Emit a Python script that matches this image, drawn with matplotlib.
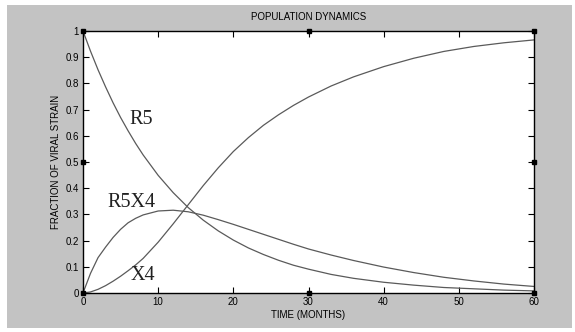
import matplotlib
matplotlib.use("Agg")
import matplotlib.pyplot as plt
from matplotlib.patches import Rectangle

# Data
t = [0, 1, 2, 3, 4, 5, 6, 7, 8, 10, 12, 14, 16, 18, 20, 22, 24, 26, 28, 30,
     33, 36, 40, 44, 48, 52, 56, 60]
r5 = [1.0, 0.923, 0.852, 0.787, 0.726, 0.670, 0.619, 0.571, 0.527, 0.449,
      0.383, 0.326, 0.278, 0.237, 0.202, 0.172, 0.147, 0.125, 0.106, 0.091,
      0.071, 0.056, 0.041, 0.030, 0.021, 0.016, 0.011, 0.008]
r5x4 = [0.0, 0.075, 0.135, 0.175, 0.212, 0.243, 0.268, 0.285, 0.298, 0.313,
        0.316, 0.310, 0.297, 0.280, 0.262, 0.243, 0.224, 0.205, 0.186, 0.168,
        0.145, 0.124, 0.099, 0.078, 0.060, 0.046, 0.034, 0.025]
x4 = [0.0, 0.004, 0.014, 0.028, 0.045, 0.064, 0.085, 0.107, 0.132, 0.194,
      0.264, 0.337, 0.410, 0.478, 0.540, 0.593, 0.640, 0.680, 0.716, 0.748,
      0.790, 0.825, 0.864, 0.896, 0.922, 0.941, 0.955, 0.966]

marker_x = [0, 0, 0, 30, 30, 60, 60, 60]
marker_y = [0, 0.5, 1, 0, 1, 0, 0.5, 1]

curve_labels = ["R5", "R5X4", "X4"]
label_pos = [(7.7, 0.664), (6.5, 0.345), (8.0, 0.067)]

x_ticks = [0, 10, 20, 30, 40, 50, 60]
y_ticks = [0, 0.1, 0.2, 0.3, 0.4, 0.5, 0.6, 0.7, 0.8, 0.9, 1]
y_ticklabels = ["0", "0.1", "0.2", "0.3", "0.4", "0.5", "0.6", "0.7", "0.8", "0.9", "1"]

W, H = 575, 332
fig = plt.figure(figsize=(W / 100, H / 100), dpi=100, facecolor="white")
fig.patches.append(Rectangle((7 / W, 4 / H), (572 - 7) / W, (327 - 4) / H,
                             transform=fig.transFigure, facecolor="#c3c3c3",
                             edgecolor="none", zorder=-10))

ax = fig.add_axes([83 / W, 39 / H, 451 / W, 262 / H])
ax.set_facecolor("white")

line_color = "#5a5a5a"
ax.plot(t, r5, color=line_color, lw=0.9)
ax.plot(t, r5x4, color=line_color, lw=0.9)
ax.plot(t, x4, color=line_color, lw=0.9)
ax.plot(marker_x, marker_y, linestyle="none", marker="s", markersize=3,
        color="black", clip_on=False, zorder=5)

for lab, (lx, ly) in zip(curve_labels, label_pos):
    ax.text(lx, ly, lab, family="Liberation Serif", fontsize=14.5,
            ha="center", va="center", color="#222222")

ax.set_xlim(0, 60)
ax.set_ylim(0, 1)
ax.set_xticks(x_ticks)
ax.set_yticks(y_ticks)
ax.set_yticklabels(y_ticklabels)
ax.tick_params(direction="in", length=4, width=0.8, top=True, right=True,
               labelsize=7, pad=3, colors="black")
for lbl in ax.get_xticklabels() + ax.get_yticklabels():
    lbl.set_family("Liberation Sans")
for sp in ax.spines.values():
    sp.set_linewidth(1.0)
    sp.set_color("black")

ax.set_title("POPULATION DYNAMICS", family="Liberation Sans", fontsize=7, pad=8)
ax.set_xlabel("TIME (MONTHS)", family="Liberation Sans", fontsize=7, labelpad=2)
ax.set_ylabel("FRACTION OF VIRAL STRAIN", family="Liberation Sans", fontsize=7,
              labelpad=3)

fig.savefig("out.png", dpi=100, facecolor=fig.get_facecolor())
